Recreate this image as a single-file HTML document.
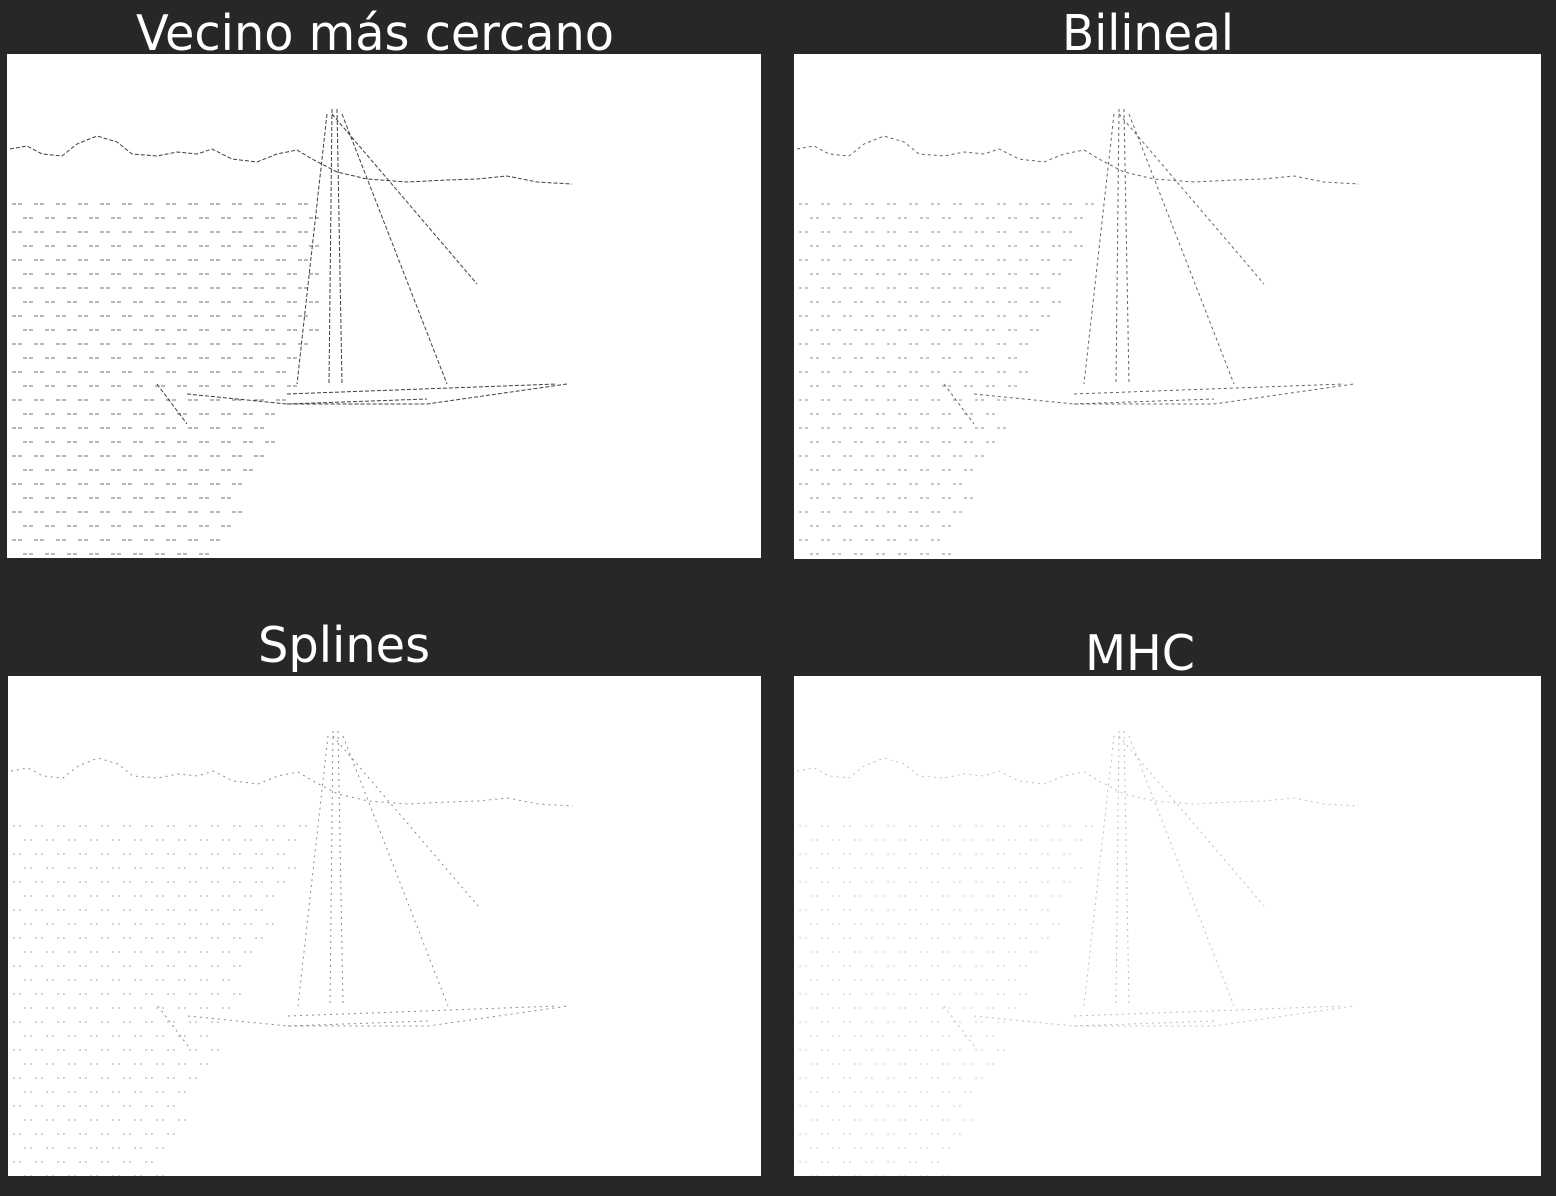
<!DOCTYPE html>
<html>
<head>
<meta charset="utf-8">
<style>
html,body{margin:0;padding:0;background:#272727;}
svg{display:block;}
text{font-family:"DejaVu Sans","Liberation Sans",sans-serif;fill:#fff;}
</style>
</head>
<body>
<svg width="1556" height="1196" viewBox="0 0 1556 1196">
<rect x="0" y="0" width="1556" height="1196" fill="#272727"/>

<text x="375" y="50" font-size="49" text-anchor="middle" textLength="478" lengthAdjust="spacingAndGlyphs">Vecino más cercano</text>
<text x="1148" y="50" font-size="49" text-anchor="middle" textLength="172" lengthAdjust="spacingAndGlyphs">Bilineal</text>
<text x="344" y="662" font-size="49" text-anchor="middle" textLength="172" lengthAdjust="spacingAndGlyphs">Splines</text>
<text x="1140" y="670" font-size="49" text-anchor="middle" textLength="110" lengthAdjust="spacingAndGlyphs">MHC</text>

<g>
<rect x="7" y="54" width="754" height="504" fill="#fff"/>
</g>
<g>
<rect x="794" y="54" width="747" height="505" fill="#fff"/>
</g>
<g>
<rect x="8" y="676" width="753" height="500" fill="#fff"/>
</g>
<g>
<rect x="794" y="676" width="747" height="500" fill="#fff"/>
</g>

<g id="sketches"></g>
</svg>
<script>
// panel origins and per-panel stroke darkness
const panelX = [7, 794, 8, 794];
const panelY = [54, 54, 676, 676];
const panelOpacity = [0.75, 0.6, 0.45, 0.25];
const panelNames = ['vecino','bilineal','splines','mhc'];
const ns = 'http://www.w3.org/2000/svg';
const root = document.getElementById('sketches');
// Horizon/treeline path relative to panel
const horizon = "M3 95 L20 92 L35 100 L55 102 L70 90 L90 82 L110 88 L125 100 L150 102 L170 98 L190 100 L205 95 L225 105 L250 108 L270 100 L290 96 L305 105 L330 118 L360 125 L400 128 L440 126 L470 125 L500 122 L530 128 L565 130";
for (let p = 0; p < 4; p++) {
  const g = document.createElementNS(ns, 'g');
  g.setAttribute('transform', `translate(${panelX[p]},${panelY[p]})`);
  g.setAttribute('stroke', '#000');
  g.setAttribute('fill', 'none');
  g.setAttribute('stroke-width', '1');
  g.setAttribute('opacity', panelOpacity[p]);
  g.setAttribute('stroke-dasharray', p === 0 ? '4 2' : p === 1 ? '3 3' : '2 4');
  
  
  const d = horizon +
    " M325 55 L322 330 M330 55 L335 330 M320 60 L290 330 M335 60 L440 330 M325 60 L470 230" +
    " M280 340 L550 330 M180 340 L280 350 L420 350 L560 330 M280 350 L420 345" +
    " M150 330 L180 370";
  const path = document.createElementNS(ns, 'path');
  path.setAttribute('d', d);
  
  
  g.appendChild(path);
  // water texture dashes (deterministic grid)
  let wd = '';
  for (let r = 0; r < 26; r++) {
    const y = 150 + r * 14;
    const maxX = 300 - r * 6 + (p === 0 ? 60 : 0);
    for (let c = 0; c < 14; c++) {
      const x = 5 + c * 22 + (r % 2) * 11;
      if (x > maxX) break;
      wd += `M${x} ${y} l12 0 `;
    }
  }
  const w = document.createElementNS(ns, 'path');
  w.setAttribute('d', wd);
  w.setAttribute('stroke-width', '0.8');
  
  
  g.appendChild(w);
  root.appendChild(g);
}
</script>
</body>
</html>
